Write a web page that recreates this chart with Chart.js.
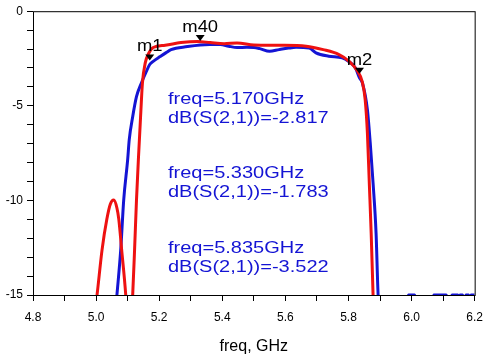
<!DOCTYPE html>
<html>
<head>
<meta charset="utf-8">
<script src="https://cdn.jsdelivr.net/npm/chart.js@4/dist/chart.umd.min.js"></script>
<style>
  html, body { margin: 0; padding: 0; background: #fff; }
</style>
</head>
<body>
<canvas id="chart" width="492" height="362"></canvas>
<script>
// simulated S21 (red)
const redFreq = [4.98, 5.003, 5.019, 5.034, 5.045, 5.056, 5.066, 5.072, 5.081, 5.094, 5.105,
  5.116, 5.122, 5.128, 5.134, 5.141, 5.147, 5.156, 5.166, 5.181, 5.219, 5.269, 5.322, 5.362,
  5.406, 5.447, 5.50, 5.58, 5.666, 5.72, 5.77, 5.80, 5.828, 5.844, 5.853, 5.86, 5.866, 5.872,
  5.878, 5.89];
const redDb = [-18, -15, -12.6, -11.0, -10.2, -9.98, -10.4, -11.0, -12.6, -15, -18,
  -15, -12.6, -10.0, -7.86, -5.58, -3.78, -2.72, -2.25, -1.92, -1.80, -1.66, -1.60, -1.66,
  -1.72, -1.68, -1.78, -1.80, -1.85, -2.03, -2.29, -2.62, -3.15, -3.75, -4.68, -6.43, -9.08, -11.74,
  -15, -20];

// measured S21 (blue)
const blueFreq = [5.04, 5.066, 5.078, 5.0875, 5.10, 5.105, 5.116, 5.128, 5.144, 5.159, 5.170,
  5.181, 5.203, 5.222, 5.2375, 5.29, 5.33, 5.36, 5.394, 5.42, 5.447, 5.478, 5.50, 5.519, 5.55,
  5.58, 5.61, 5.634, 5.675, 5.697, 5.7375, 5.78, 5.80, 5.822, 5.835, 5.844, 5.86, 5.869, 5.878,
  5.8875, 5.894, 5.92, 5.96, 5.985, 5.99, 6.01, 6.02, 6.06, 6.07, 6.11, 6.12, 6.128, 6.147,
  6.15, 6.153, 6.162, 6.167, 6.172, 6.181, 6.185, 6.188, 6.2];
const blueDb = [-20, -15, -12.63, -9.98, -7.86, -6.80, -5.58, -4.52, -3.78, -3.20, -2.817,
  -2.65, -2.40, -2.19, -2.03, -1.87, -1.783, -1.76, -1.76, -1.85, -1.92, -1.91, -1.92, -1.98, -2.12,
  -2.03, -1.95, -1.91, -1.94, -2.20, -2.38, -2.47, -2.65, -3.0, -3.522, -3.78, -5.21, -6.96, -9.08,
  -11.74, -15, -19, -18, -16, -15, -15, -16.5, -17, -15, -15, -16, -15, -15,
  -16, -15, -15, -16, -15, -15, -16, -15, -15];

// markers
const markerNames = ["m1", "m40", "m2"];
const markerFreq = [5.170, 5.330, 5.835];
const markerDb = [-2.817, -1.783, -3.522];

const RED = "#ee1111";
const BLUE = "#1414d4";
const FONT = "'Liberation Sans', Arial, sans-serif";

function toPoints(xs, ys) {
  return xs.map((x, i) => ({ x, y: ys[i] }));
}

const overlay = {
  id: "overlay",
  afterDatasetsDraw(chart) {
    const { ctx, chartArea: a, scales } = chart;
    ctx.save();
    // frame
    ctx.strokeStyle = "#000";
    ctx.lineWidth = 1;
    ctx.strokeRect(a.left + 0.5, a.top + 0.5, a.right - a.left, a.bottom - a.top);

    // marker triangles + names
    ctx.fillStyle = "#000";
    ctx.font = "16px " + FONT;
    ctx.textAlign = "center";
    ctx.textBaseline = "alphabetic";
    markerNames.forEach((name, i) => {
      const px = scales.x.getPixelForValue(markerFreq[i]);
      const py = scales.y.getPixelForValue(markerDb[i]);
      ctx.beginPath();
      ctx.moveTo(px, py - 4);
      ctx.lineTo(px - 4.5, py - 10);
      ctx.lineTo(px + 4.5, py - 10);
      ctx.closePath();
      ctx.fill();
      ctx.save();
      ctx.translate(px, py - 13);
      ctx.scale(1.15, 1);
      ctx.fillText(name, 0, 0);
      ctx.restore();
    });

    // marker readouts
    ctx.fillStyle = BLUE;
    ctx.textAlign = "left";
    const baseY = [104, 178, 253];
    markerNames.forEach((name, i) => {
      const lines = [
        "freq=" + markerFreq[i].toFixed(3) + "GHz",
        "dB(S(2,1))=" + markerDb[i].toFixed(3),
      ];
      lines.forEach((t, j) => {
        ctx.save();
        ctx.translate(a.left + 135, baseY[i] + j * 19);
        ctx.scale(1.25, 1);
        ctx.fillText(t, 0, 0);
        ctx.restore();
      });
    });

    // x axis title
    ctx.fillStyle = "#000";
    ctx.textAlign = "center";
    ctx.font = "16px " + FONT;
    ctx.fillText("freq, GHz", (a.left + a.right) / 2, 351);
    ctx.restore();
  },
};

new Chart(document.getElementById("chart"), {
  type: "line",
  data: {
    datasets: [
      {
        label: "sim",
        data: toPoints(redFreq, redDb),
        borderColor: RED,
        borderWidth: 3,
        pointRadius: 0,
        cubicInterpolationMode: "monotone",
      },
      {
        label: "meas",
        data: toPoints(blueFreq, blueDb),
        borderColor: BLUE,
        borderWidth: 3,
        pointRadius: 0,
        cubicInterpolationMode: "monotone",
      },
    ],
  },
  options: {
    responsive: false,
    animation: false,
    events: [],
    layout: { padding: { top: 11, right: 12, left: 0, bottom: 0 } },
    plugins: { legend: { display: false }, tooltip: { enabled: false } },
    scales: {
      x: {
        type: "linear",
        min: 4.8,
        max: 6.2,
        afterFit: (s) => { s.height = 67; },
        border: { display: false },
        grid: { drawOnChartArea: false, color: "#000", tickLength: 6, tickColor: "#000" },
        ticks: {
          stepSize: 0.1,
          autoSkip: false,
          maxRotation: 0,
          padding: 9,
          color: "#000",
          font: { family: FONT, size: 12 },
          callback: (v) => (Math.round(v * 10) % 2 === 0 ? v.toFixed(1) : ""),
        },
      },
      y: {
        min: -15,
        max: 0,
        afterFit: (s) => { s.width = 33; },
        border: { display: false },
        grid: { drawOnChartArea: false, color: "#000", tickLength: 6, tickColor: "#000" },
        ticks: {
          stepSize: 1,
          autoSkip: false,
          padding: 4,
          color: "#000",
          font: { family: FONT, size: 12 },
          callback: (v) => (v % 5 === 0 ? String(v) : ""),
        },
      },
    },
  },
  plugins: [overlay],
});
</script>
</body>
</html>
